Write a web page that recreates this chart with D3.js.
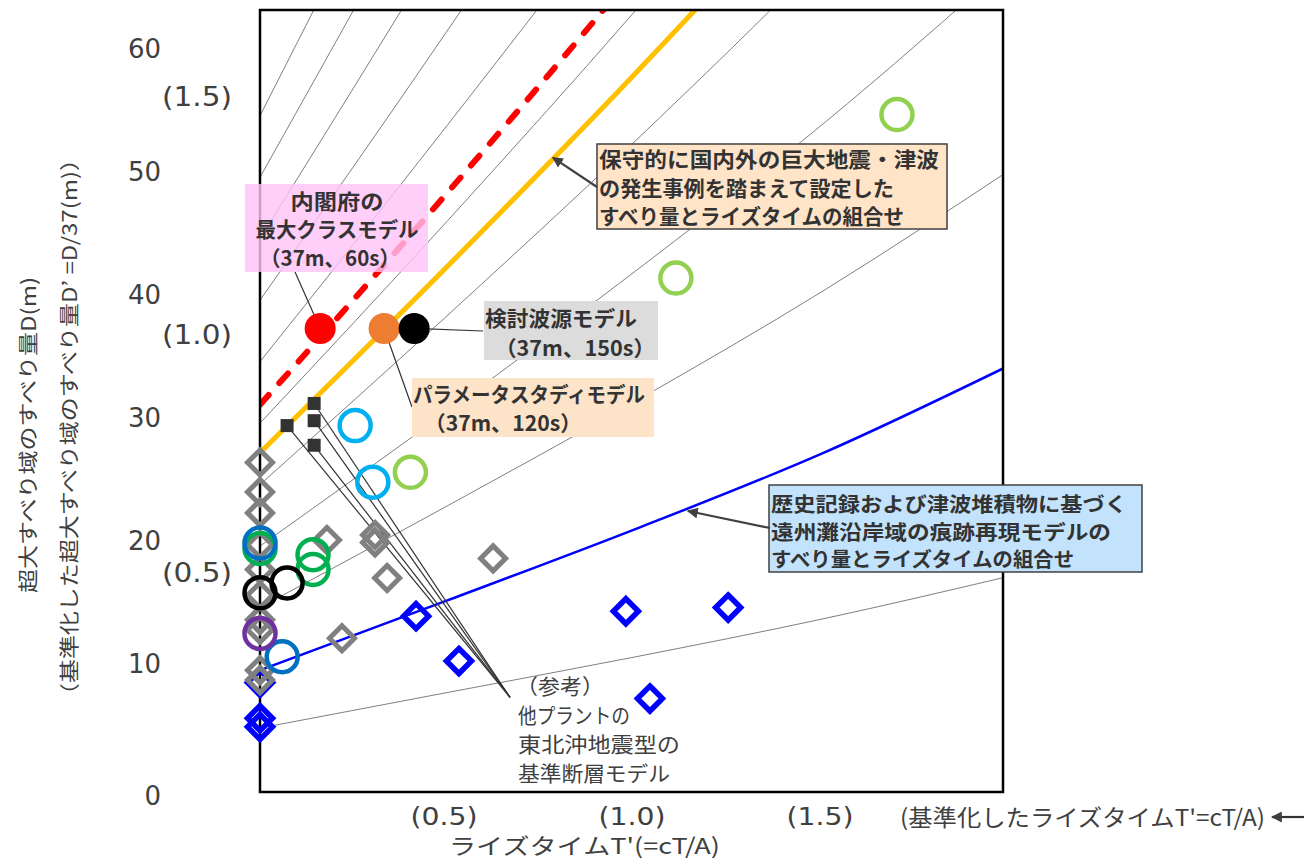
<!DOCTYPE html>
<html><head><meta charset="utf-8">
<script src="https://cdn.jsdelivr.net/npm/d3@7"></script>
<style>body{margin:0;background:#fff}</style>
</head><body>
<svg id="c" width="1304" height="859"></svg>
<script>
// ---------------- data ----------------
const yTicks = [0, 10, 20, 30, 40, 50, 60];
const yNormTicks = [0.5, 1.0, 1.5];
const xNormTicks = [0.5, 1.0, 1.5];

// guide curves: rise time T' samples and slip D values
const guideT = [0, 0.5, 1.0, 1.5, 2.0];
const grayGuides = [
  [55, 85.3, 116.6, 149.6, 185.9],
  [50, 77.5, 106, 136, 169],
  [45, 69.8, 95.4, 122.4, 152.1],
  [40, 62, 84.8, 108.8, 135.2],
  [35, 54.3, 74.2, 95.2, 118.3],
  [30, 46.5, 63.6, 81.6, 101.4],
  [25, 38.8, 53, 68, 84.5],
  [20, 31, 42.4, 54.4, 67.6],
  [15, 23.3, 31.8, 40.8, 50.7],
  [5.2, 8.1, 11.0, 14.1, 17.6]
];
const blueGuide = [9.9, 15.6, 21.4, 27.6, 34.8];
const orangeGuide = [27.6, 42.8, 58.5, 75.1, 93.3];
const redGuide = [31.5, 48.8, 66.8, 85.7, 106.5];

// model points [T', D]
const cabinetModel = [[0.16, 37.7]];
const studyModel = [[0.41, 37.7]];
const paramModel = [[0.33, 37.7]];

// other plants (squares)
const otherPlants = [[0.072, 29.8], [0.144, 31.6], [0.144, 30.2], [0.144, 28.2]];

// open circles: [T', D, colour key]
const circlePts = [
  [0.141, 19.3, 'green'], [0.141, 18.1, 'green'], [0, 19.8, 'green'],
  [0, 20.25, 'blue'], [0.059, 11.0, 'blue'],
  [0, 16.2, 'black'], [0.072, 17.0, 'black'],
  [0, 12.9, 'purple'],
  [0.253, 29.8, 'cyan'], [0.30, 25.2, 'cyan'],
  [0.40, 26.0, 'lime'], [1.106, 41.8, 'lime'], [1.694, 55.1, 'lime']
];

// gray diamonds [T', D]
const grayDiamonds = [
  [0, 26.8], [0, 24.4], [0, 22.7], [0, 20.1], [0, 18.1], [0, 16.0], [0, 14.0], [0, 13.2], [0, 9.9], [0, 9.1],
  [0.178, 20.5], [0.306, 20.9], [0.306, 20.3], [0.338, 17.4], [0.218, 12.5], [0.62, 19.0]
];
// blue diamonds [T', D]
const blueDiamonds = [
  [0, 8.9], [0, 6.0], [0, 5.3],
  [0.415, 14.3], [0.529, 10.65], [0.973, 14.7], [1.245, 15.0], [1.037, 7.6]
];

// ---------------- drawing ----------------
const svg = d3.select('#c');
const x = d3.scaleLinear().domain([0, 1.976]).range([260, 1003]);
const y = d3.scaleLinear().domain([0, 63.6]).range([792, 10]);
const yN = d3.scaleLinear().domain([0.5, 1.5]).range([573, 97]);

const colors = {green:'#00B050', blue:'#0070C0', black:'#000000', purple:'#7030A0', cyan:'#00B0F0', lime:'#92D050'};
const txt = '#404040';

const defs = svg.append('defs');
defs.append('clipPath').attr('id','plot').append('rect')
  .attr('x', x(0)).attr('y', y(63.6)).attr('width', x(1.976)-x(0)).attr('height', y(0)-y(63.6));
defs.append('marker').attr('id','ah').attr('viewBox','0 0 10 10').attr('refX',9).attr('refY',5)
  .attr('markerWidth',5).attr('markerHeight',5).attr('orient','auto-start-reverse')
  .append('path').attr('d','M0,0 L10,5 L0,10 z').attr('fill','#404040');

const line = d3.line().x((d,i)=>x(guideT[i])).y(d=>y(d)).curve(d3.curveMonotoneX);
const plot = svg.append('g').attr('clip-path','url(#plot)');

plot.selectAll('path.gray').data(grayGuides).join('path').attr('class','gray')
  .attr('d', line).attr('fill','none').attr('stroke','#7f7f7f').attr('stroke-width',1);
plot.append('path').attr('d', line(blueGuide)).attr('fill','none').attr('stroke','#0000FF').attr('stroke-width',2.5);
plot.append('path').attr('d', line(orangeGuide)).attr('fill','none').attr('stroke','#FFC000').attr('stroke-width',5);
plot.append('path').attr('d', line(redGuide)).attr('fill','none').attr('stroke','#FF0000').attr('stroke-width',6)
  .attr('stroke-dasharray','13,16').attr('stroke-linecap','round');

// frame
svg.append('rect').attr('x', x(0)).attr('y', y(63.6)).attr('width', x(1.976)-x(0)).attr('height', y(0)-y(63.6))
  .attr('fill','none').attr('stroke','#000').attr('stroke-width',2.5);

// ---- label boxes ----
function box(r, fill, stroke, opacity, lines, anchor, weight, size){
  const g = svg.append('g');
  if (r) g.append('rect').attr('x',r[0]).attr('y',r[1]).attr('width',r[2]).attr('height',r[3])
    .attr('fill',fill).attr('fill-opacity',opacity).attr('stroke',stroke||'none').attr('stroke-width',1.5);
  lines.forEach(l=>{
    g.append('text').attr('x',l[1]).attr('y',l[2]).text(l[0])
      .attr('text-anchor',anchor).attr('dominant-baseline','central')
      .attr('font-family','"Noto Sans CJK JP", sans-serif').attr('font-weight',weight)
      .attr('font-size',size).attr('fill', weight===700 ? '#333' : txt)
      .attr('textLength',l[3]).attr('lengthAdjust','spacingAndGlyphs');
  });
  return g;
}

// leader lines for squares
const conv = [0.665, 7.7];
svg.append('g').selectAll('line').data(otherPlants).join('line')
  .attr('x1',d=>x(d[0])).attr('y1',d=>y(d[1])).attr('x2',x(conv[0])).attr('y2',y(conv[1]))
  .attr('stroke','#333').attr('stroke-width',1.2);

// leader lines for models
const leaders = [[295,272,cabinetModel[0]],[412,407,paramModel[0]],[483,331,studyModel[0]]];
svg.append('g').selectAll('line').data(leaders).join('line')
  .attr('x1',d=>d[0]).attr('y1',d=>d[1]).attr('x2',d=>x(d[2][0])).attr('y2',d=>y(d[2][1]))
  .attr('stroke','#333').attr('stroke-width',1.2);

box([245,184,183,88], '#FFC3F8', null, 0.8, [
  ['内閣府の',337,200,93],['最大クラスモデル',337,228,163],['（37m、60s）',330,257,140]], 'middle', 700, 21);
box([484,301,174,59], '#DCDCDC', null, 1, [
  ['検討波源モデル',561,317,152],['（37m、150s）',575,347,160]], 'middle', 700, 21);
box([412,378,242,59], '#FDE4C9', null, 1, [
  ['パラメータスタディモデル',529,393,232],['（37m、120s）',503,422,157]], 'middle', 700, 21);
box([597,144,350,85], '#FFE4C8', '#404040', 1, [
  ['保守的に国内外の巨大地震・津波',599,158,340],['の発生事例を踏まえて設定した',599,187,295],['すべり量とライズタイムの組合せ',599,215,305]], 'start', 700, 21);
box([769,485,373,87], '#C3E3FC', '#404040', 1, [
  ['歴史記録および津波堆積物に基づく',771,503,356],['遠州灘沿岸域の痕跡再現モデルの',771,531,340],['すべり量とライズタイムの組合せ',771,558,303]], 'start', 700, 20);
box(null, null, null, 1, [
  ['（参考）',516,685,88],['他プラントの',518,714,112],['東北沖地震型の',518,743,162],['基準断層モデル',518,772,152]], 'start', 400, 21);

// arrows
const arrowTips = [[0.779, 51.6, 597, 187], [1.138, 22.85, 770, 528]];
svg.append('g').selectAll('line').data(arrowTips).join('line')
  .attr('x1',d=>d[2]).attr('y1',d=>d[3]).attr('x2',d=>x(d[0])).attr('y2',d=>y(d[1]))
  .attr('stroke','#404040').attr('stroke-width',2.2).attr('marker-end','url(#ah)');

// ---- markers ----
const diamond = s => `M0,${-s}L${s},0L0,${s}L${-s},0Z`;
svg.append('g').selectAll('path').data(blueDiamonds).join('path')
  .attr('d', diamond(12.5)).attr('transform',d=>`translate(${x(d[0])},${y(d[1])})`)
  .attr('fill','none').attr('stroke','#0000FF').attr('stroke-width',5.5);
svg.append('g').selectAll('path').data(grayDiamonds).join('path')
  .attr('d', diamond(12.5)).attr('transform',d=>`translate(${x(d[0])},${y(d[1])})`)
  .attr('fill','none').attr('stroke','#808080').attr('stroke-width',5);
svg.append('g').selectAll('circle').data(circlePts).join('circle')
  .attr('cx',d=>x(d[0])).attr('cy',d=>y(d[1])).attr('r',15.5)
  .attr('fill','none').attr('stroke',d=>colors[d[2]]).attr('stroke-width',4.5);
svg.append('g').selectAll('rect').data(otherPlants).join('rect')
  .attr('x',d=>x(d[0])-6.5).attr('y',d=>y(d[1])-6.5).attr('width',13).attr('height',13).attr('fill','#333');
const filled = [[cabinetModel[0],'#FF0000'],[paramModel[0],'#ED7D31'],[studyModel[0],'#000000']];
svg.append('g').selectAll('circle').data(filled).join('circle')
  .attr('cx',d=>x(d[0][0])).attr('cy',d=>y(d[0][1])).attr('r',15.5).attr('fill',d=>d[1]);

// ---- axes labels ----
svg.append('g').selectAll('text').data(yTicks).join('text')
  .attr('x',161).attr('y',d=>y(d)-5 + (d===0 ? 9 : 0)).text(d=>d)
  .attr('text-anchor','end').attr('dominant-baseline','central')
  .attr('font-family','"DejaVu Sans", sans-serif').attr('font-size',26).attr('fill',txt);
svg.append('g').selectAll('text').data(yNormTicks).join('text')
  .attr('x',232).attr('y',d=>yN(d)).text(d=>`(${d.toFixed(1)})`)
  .attr('text-anchor','end').attr('dominant-baseline','central')
  .attr('font-family','"DejaVu Sans", sans-serif').attr('font-size',26).attr('fill',txt)
  .attr('textLength',70).attr('lengthAdjust','spacingAndGlyphs');
svg.append('g').selectAll('text').data(xNormTicks).join('text')
  .attr('x',d=>x(d)-4).attr('y',816).text(d=>`(${d.toFixed(1)})`)
  .attr('text-anchor','middle').attr('dominant-baseline','central')
  .attr('font-family','"DejaVu Sans", sans-serif').attr('font-size',25).attr('fill',txt)
  .attr('textLength',67).attr('lengthAdjust','spacingAndGlyphs');

const cjk = '"Noto Sans CJK JP", sans-serif';
svg.append('text').attr('x',900).attr('y',816).text("(基準化したライズタイムT'=cT/A)")
  .attr('dominant-baseline','central').attr('font-family',cjk).attr('font-size',23).attr('fill',txt)
  .attr('textLength',365).attr('lengthAdjust','spacingAndGlyphs');
svg.append('line').attr('x1',1304).attr('y1',817).attr('x2',1272).attr('y2',817)
  .attr('stroke','#333').attr('stroke-width',2.2).attr('marker-end','url(#ah)');
svg.append('text').attr('x',449).attr('y',844).text("ライズタイムT'(=cT/A)")
  .attr('dominant-baseline','central').attr('font-family',cjk).attr('font-size',22).attr('fill',txt)
  .attr('textLength',271).attr('lengthAdjust','spacingAndGlyphs');

svg.append('text').attr('transform','translate(27,435) rotate(-90)').text('超大すべり域のすべり量D(m)')
  .attr('text-anchor','middle').attr('dominant-baseline','central')
  .attr('font-family',cjk).attr('font-size',20).attr('fill',txt)
  .attr('textLength',316).attr('lengthAdjust','spacingAndGlyphs');
svg.append('text').attr('transform','translate(68,427) rotate(-90)').text('（基準化した超大すべり域のすべり量D’ =D/37(m)）')
  .attr('text-anchor','middle').attr('dominant-baseline','central')
  .attr('font-family',cjk).attr('font-size',20).attr('fill',txt)
  .attr('textLength',560).attr('lengthAdjust','spacingAndGlyphs');
</script>
</body></html>
